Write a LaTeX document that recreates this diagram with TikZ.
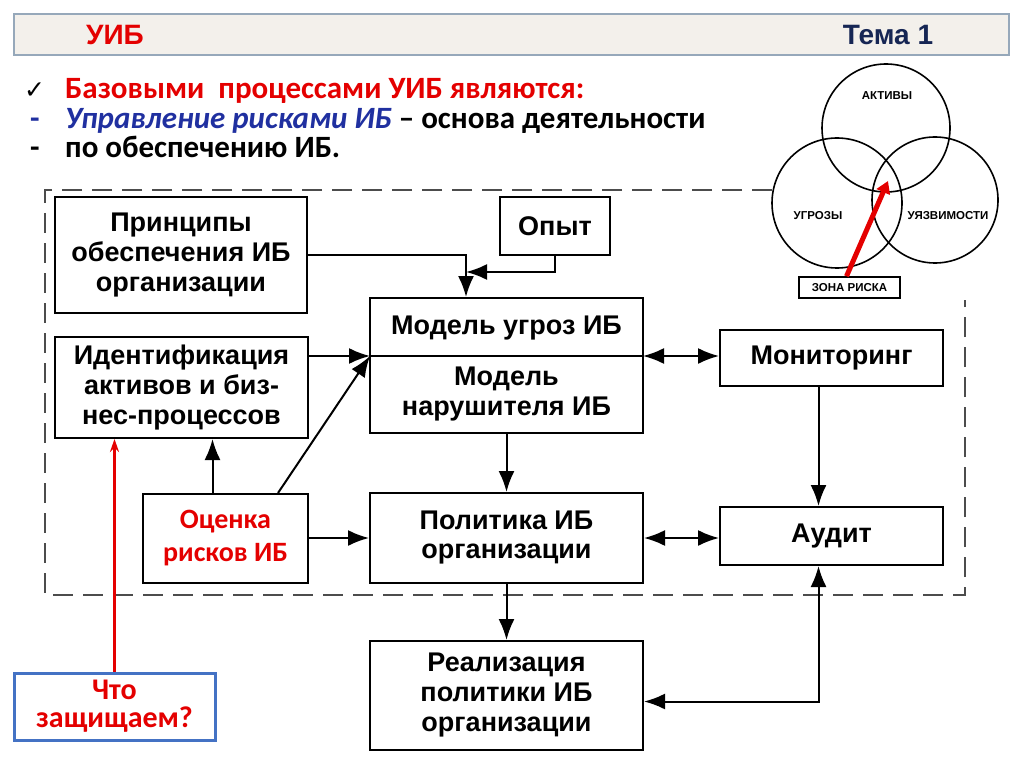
\documentclass[tikz,border=0pt]{standalone}
\usepackage{fontspec}
\setmainfont{Liberation Sans}
\newfontfamily\calfont{Carlito}
\newfontfamily\checkfont{DejaVu Sans}
\usetikzlibrary{arrows.meta}
\definecolor{uibred}{RGB}{228,0,0}
\definecolor{uibblue}{RGB}{32,48,160}
\definecolor{uibnavy}{RGB}{22,38,84}
\definecolor{bandfill}{RGB}{243,240,235}
\definecolor{bandline}{RGB}{150,168,186}
\definecolor{boxblue}{RGB}{68,114,196}

\begin{document}
\begin{tikzpicture}[x=1pt, y=-1pt,
	blk/.style={draw, line width=2pt, align=center, inner sep=0pt, font=\bfseries\fontsize{27}{30}\selectfont},
	arr/.style={line width=2pt, -{Latex[length=21pt,width=16pt]}},
	darr/.style={line width=2pt, {Latex[length=21pt,width=16pt]}-{Latex[length=21pt,width=16pt]}},
	venn/.style={circle, draw, line width=1.6pt, inner sep=0pt},
	tiny/.style={font=\bfseries\fontsize{11.5}{13}\selectfont},
	bul/.style={anchor=base west, inner sep=0pt, font=\calfont\bfseries\fontsize{31}{33}\selectfont}]
	\useasboundingbox (0,0) rectangle (1024,767);

	\begin{scope}
		\node[draw=bandline, fill=bandfill, line width=1.5pt, minimum width=995pt, minimum height=41pt, inner sep=0pt] (band) at (511.5,34.5) {};
		\node[font=\bfseries\fontsize{28}{30}\selectfont, text=uibred] (uib) at (115,35) {УИБ};
		\node[font=\bfseries\fontsize{28}{30}\selectfont, text=uibnavy] (tema) at (888,35) {Тема 1};

		\node[bul, font=\checkfont\fontsize{25}{27}\selectfont] (chk) at (24,99) {✓};
		\node[bul, text=uibred] (l1) at (65,99) {Базовыми\ \ процессами УИБ являются:};
		\node[bul, text=uibblue] (d2) at (30,129) {-};
		\node[bul] (l2) at (65,129) {\textcolor{uibblue}{\itshape Управление рисками ИБ} – основа деятельности};
		\node[bul] (d3) at (30,158) {-};
		\node[bul] (l3) at (65,158) {по обеспечению ИБ.};
	\end{scope}

	% risk zone
	\begin{scope}
		\node[venn, minimum size=128pt] (act) at (886,128) {};
		\node[venn, minimum size=130pt] (thr) at (837,203) {};
		\node[venn, minimum size=126pt] (vul) at (935,200) {};
		\node[tiny] (actL) at (887,96) {АКТИВЫ};
		\node[tiny] (thrL) at (818,216) {УГРОЗЫ};
		\node[tiny] (vulL) at (948,216) {УЯЗВИМОСТИ};
		\node[draw, line width=1.6pt, minimum width=101pt, minimum height=21pt, inner sep=0pt, tiny] (zone) at (849.5,287.5) {ЗОНА РИСКА};
		\coordinate (risk) at (888,181);
		\draw[line width=5pt, uibred, -{Triangle[length=12pt,width=14pt]}] ([xshift=-3pt]zone.north) -- (risk);
	\end{scope}

	\draw[gray!60!black, line width=2pt, dash pattern=on 20pt off 10pt] (772,190) -- (45,190) -- (45,595) -- (965,595) -- (965,300);

	\begin{scope}[every node/.style={blk}]
		\node[minimum width=252pt, minimum height=116pt] (princ) at (181,255) {Принципы\\обеспечения ИБ\\организации};
		\node[minimum width=110pt, minimum height=58pt] (opyt) at (555,226) {Опыт};
		\node[minimum width=273pt, minimum height=135pt] (model) at (506.5,365.5) {};
		\node[minimum width=253pt, minimum height=101pt] (ident) at (181.5,387.5) {Идентификация\\активов и биз-\\нес-процессов};
		\node[minimum width=223pt, minimum height=56pt] (monit) at (831.5,358) {Мониторинг};
		\node[minimum width=165pt, minimum height=89pt, text=uibred, font=\calfont\bfseries\fontsize{28}{33}\selectfont] (ocenka) at (225.5,538.5) {Оценка\\рисков ИБ};
		\node[minimum width=273pt, minimum height=90pt, font=\bfseries\fontsize{27}{29}\selectfont] (polit) at (506.5,538) {Политика ИБ\\организации};
		\node[minimum width=223pt, minimum height=58pt] (audit) at (831.5,536) {Аудит};
		\node[minimum width=273pt, minimum height=109pt] (real) at (506.5,695.5) {Реализация\\политики ИБ\\организации};
		\node[draw=boxblue, line width=3pt, minimum width=201pt, minimum height=67pt, text=uibred, font=\calfont\bfseries\fontsize{30}{28}\selectfont] (chto) at (114.5,706.5) {Что\\защищаем?};
		\node[draw=none] (mthr) at (506.5,328) {Модель угроз ИБ};
		\node[draw=none] (mviol) at (506.5,394) {Модель\\нарушителя ИБ};
	\end{scope}

	\begin{scope}
		\coordinate (modL) at (370,356);
		\coordinate (modR) at (643,356);
		\coordinate (join) at (466,272);
		\draw[line width=2pt] (modL) -- (modR);
		\draw[arr] (princ.east) -| (join |- model.north);
		\draw[arr] (opyt.south) |- (join);
		\draw[arr] (ident.east |- modL) -- (modL);
		\draw[arr] ([xshift=-31pt]ocenka.north east) -- (modL);
		\draw[arr] ([xshift=-13pt]ocenka.north) -- ([xshift=-13pt]ocenka.north |- ident.south);
		\draw[arr] (ocenka.east |- polit.west) -- (polit.west);
		\draw[arr] (model.south) -- (polit.north);
		\draw[darr] (modR) -- (modR -| monit.west);
		\draw[arr] ([xshift=-13pt]monit.south) -- ([xshift=-13pt]audit.north);
		\draw[darr] (polit.east) -- (polit.east -| audit.west);
		\draw[arr] (polit.south) -- (real.north);
		\draw[darr] ([xshift=-13pt]audit.south) |- ([yshift=-6pt]real.east);
		\draw[uibred, line width=2.5pt, -{Stealth[length=13pt,width=9pt]}] (chto.north) -- (chto.north |- ident.south);
	\end{scope}
\end{tikzpicture}
\end{document}
